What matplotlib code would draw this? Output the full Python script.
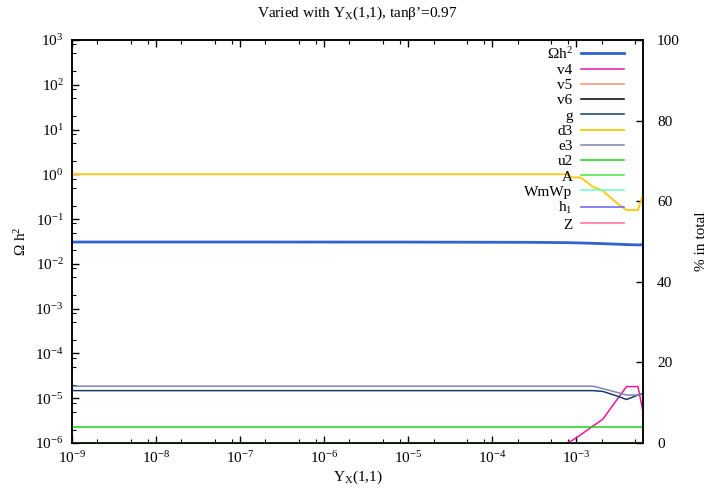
import matplotlib
matplotlib.use('Agg')
import matplotlib.pyplot as plt
import matplotlib.ticker as mticker

plt.rcParams['font.family'] = ['Liberation Serif', 'DejaVu Serif']
plt.rcParams['mathtext.fontset'] = 'custom'
plt.rcParams['mathtext.rm'] = 'Liberation Serif'
plt.rcParams['mathtext.default'] = 'regular'
plt.rcParams['axes.unicode_minus'] = False
plt.rcParams['font.size'] = 11

# Y_X(1,1) sample points
yx = [1e-9, 1e-7, 1e-5, 3e-4, 7.6e-4, 9e-4, 1.12e-3, 1.57e-3, 2.06e-3,
      3.0e-3, 3.95e-3, 5.4e-3, 6.2e-3]

# relic density (left axis)
omega = [0.0308, 0.0308, 0.0307, 0.0303, 0.0298, 0.0296, 0.0293, 0.0288,
         0.0283, 0.0276, 0.0270, 0.0265, 0.0270]

# channel contributions in % (right axis)
v4 = [0, 0, 0, 0, 0, 0.7, 2.0, 4.2, 5.9, 10.6, 14.0, 14.0, 7.8]
v5 = [0] * 13
v6 = [0] * 13
g = [13.0, 13.0, 13.0, 13.0, 13.0, 13.0, 13.0, 13.0, 12.8, 11.7, 10.8, 11.9, 12.3]
d3 = [66.7, 66.7, 66.7, 66.7, 66.7, 65.9, 65.9, 63.6, 62.6, 59.6, 57.8, 57.8, 61.5]
e3 = [14.1, 14.1, 14.1, 14.1, 14.1, 14.1, 14.1, 14.1, 13.5, 12.6, 11.9, 11.9, 12.4]
u2 = [4.0] * 13
A = [0] * 13
WmWp = [0] * 13
h1 = [0] * 13
Z = [0] * 13

channels = [
    ('v4', v4, '#e8179b'),
    ('v5', v5, '#f59068'),
    ('v6', v6, '#000000'),
    ('g', g, '#153d6e'),
    ('d3', d3, '#fbcb1c'),
    ('e3', e3, '#8383b3'),
    ('u2', u2, '#1ecf1e'),
    ('WmWp', WmWp, '#66ffcc'),
    ('h$_1$', h1, '#6464ee'),
    ('Z', Z, '#ff6a9a'),
    ('A', A, '#3ee83e'),
]
legend_order = ['Ωh$^2$', 'v4', 'v5', 'v6', 'g', 'd3', 'e3', 'u2', 'A', 'WmWp', 'h$_1$', 'Z']

fig = plt.figure(figsize=(7.13, 4.90), dpi=100)
ax = fig.add_axes([72 / 713, 1 - 443 / 490, (643 - 72) / 713, (443 - 40) / 490])
ax2 = ax.twinx()

handles = {}
l, = ax.plot(yx, omega, color='#2f63cf', lw=2.0)
handles['Ωh$^2$'] = l
for name, vals, col in channels:
    lw = 1.4 if name == 'd3' else 1.1
    l, = ax2.plot(yx, vals, color=col, lw=lw)
    handles[name] = l

ax.set_xscale('log')
ax.set_yscale('log')
ax.set_xlim(1e-9, 6.2e-3)
ax.set_ylim(1e-6, 1e3)
ax2.set_ylim(0, 100)

ax.xaxis.set_major_locator(mticker.LogLocator(base=10, numticks=20))
ax.xaxis.set_minor_locator(mticker.LogLocator(base=10, subs=[2, 5, 8], numticks=20))
ax.yaxis.set_major_locator(mticker.LogLocator(base=10, numticks=20))
ax.yaxis.set_minor_locator(mticker.LogLocator(base=10, subs=[2, 5, 8], numticks=20))
ax.xaxis.set_minor_formatter(mticker.NullFormatter())
ax.yaxis.set_minor_formatter(mticker.NullFormatter())
ax2.set_yticks([0, 20, 40, 60, 80, 100])

ax.tick_params(which='both', direction='in', top=True, right=False, labelsize=11)
ax.tick_params(axis='y', pad=6)
ax.tick_params(axis='x', pad=5)
ax.tick_params(which='major', length=5, width=1)
ax.tick_params(which='minor', length=3, width=0.8)
ax2.tick_params(direction='in', length=5, width=1, labelsize=11, pad=10)

for a in (ax, ax2):
    for s in a.spines.values():
        s.set_linewidth(1.1)

ax.set_xlabel('Y$_X$(1,1)', fontsize=11, labelpad=2)
ax.set_ylabel('Ω h$^2$', fontsize=11, labelpad=4)
ax2.set_ylabel('% in total', fontsize=11, labelpad=11)
ax.set_title('Varied with Y$_X$(1,1), tanβ’=0.97', fontsize=11, pad=17)

ax2.legend([handles[n] for n in legend_order], legend_order, loc='upper right',
           bbox_to_anchor=(0.985, 1.012), markerfirst=False, frameon=False,
           fontsize=11, handlelength=2.8, handletextpad=0.55, labelspacing=0.1,
           borderpad=0.2)

fig.savefig('out.png', dpi=100)
